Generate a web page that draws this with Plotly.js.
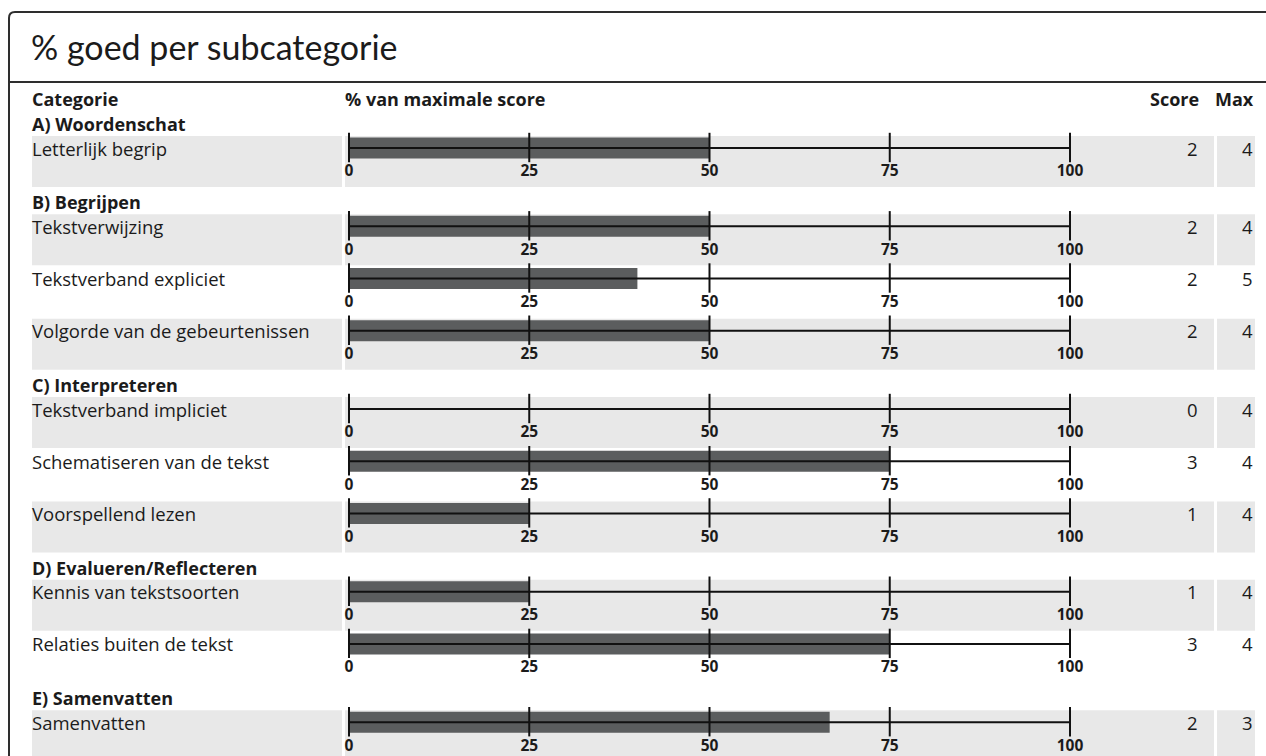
<!DOCTYPE html>
<html>
<head>
<meta charset="utf-8">
<script src="https://cdn.plot.ly/plotly-3.0.1.min.js"></script>
<style>
  html, body { margin: 0; padding: 0; background: #ffffff; }
  #chart { width: 1266px; height: 756px; }
</style>
</head>
<body>
<div id="chart"></div>
<script>
// ---------------- data ----------------
const groups = ["A) Woordenschat", "B) Begrijpen", "C) Interpreteren", "D) Evalueren/Reflecteren", "E) Samenvatten"];
const subcategories = [
  "Letterlijk begrip",
  "Tekstverwijzing",
  "Tekstverband expliciet",
  "Volgorde van de gebeurtenissen",
  "Tekstverband impliciet",
  "Schematiseren van de tekst",
  "Voorspellend lezen",
  "Kennis van tekstsoorten",
  "Relaties buiten de tekst",
  "Samenvatten"
];
const groupIndex = [0, 1, 1, 1, 2, 2, 2, 3, 3, 4];
const scores = [2, 2, 2, 2, 0, 3, 1, 1, 3, 2];
const maxScores = [4, 4, 5, 4, 4, 4, 4, 4, 4, 3];
const tickVals = [0, 25, 50, 75, 100];
const tickLabels = ["0", "25", "50", "75", "100"];
const headerLabels = ["Categorie", "% van maximale score", "Score", "Max"];
const chartTitle = "% goed per subcategorie";

// ---------------- layout helpers ----------------
const W = 1266, H = 756;
const X0 = 349, PXU = 7.21;           // pixel of 0 %, pixels per % unit
const px = p => (p - X0) / PXU;       // page pixel -> x data unit
const FIRST_LINE = 148, SLOT = 26.1;  // row geometry (y in pixel units)
const FONT = "'Open Sans', Lato, sans-serif";
const TFONT = "Lato, 'Open Sans', sans-serif";
const TXT = "#1b1b1b";

// row positions
const rowLine = [];
const groupCenter = [];
const rowShade = [];
let slot = 0, k = 0;
for (let i = 0; i < subcategories.length; i++) {
  if (i > 0 && groupIndex[i] !== groupIndex[i - 1]) { slot += 1; k = 0; }
  const line = FIRST_LINE + slot * SLOT;
  rowLine.push(line);
  if (k === 0) groupCenter[groupIndex[i]] = line - 24;
  rowShade.push(k % 2 === 0);
  slot += 2; k += 1;
}
const percent = scores.map((s, i) => s / maxScores[i] * 100);

// ---------------- traces ----------------
const bars = {
  type: "bar", orientation: "h",
  y: rowLine, x: percent, base: 0, width: 21,
  marker: { color: "#5b5d5e", line: { width: 0 } },
  hoverinfo: "skip", showlegend: false
};

const axX = [], axY = [];
const tkX = [], tkY = [], tlX = [], tlY = [], tlT = [];
rowLine.forEach(l => {
  axX.push(tickVals[0], tickVals[tickVals.length - 1], null);
  axY.push(l, l, null);
  tickVals.forEach((v, j) => {
    tkX.push(v); tkY.push(l - 0.5);
    tlX.push(v); tlY.push(l + 24.5); tlT.push("<b>" + tickLabels[j] + "</b>");
  });
});
const axisLines = {
  type: "scatter", mode: "lines", x: axX, y: axY,
  line: { color: "#111111", width: 2 }, hoverinfo: "skip", showlegend: false
};
const tickMarks = {
  type: "scatter", mode: "markers", x: tkX, y: tkY,
  marker: { symbol: "line-ns", size: 21, line: { color: "#111111", width: 2 } },
  hoverinfo: "skip", showlegend: false
};
const tickText = {
  type: "scatter", mode: "text", x: tlX, y: tlY, text: tlT,
  textposition: "middle center",
  textfont: { family: FONT, size: 15.5, color: TXT },
  hoverinfo: "skip", showlegend: false
};

// ---------------- annotations (table text) ----------------
const ann = [];
function addText(txt, x, y, anchor, size, bold) {
  ann.push({
    text: bold ? "<b>" + txt + "</b>" : txt,
    x: x, y: y, xref: "x", yref: "y",
    xanchor: anchor, yanchor: "middle", showarrow: false,
    font: { family: FONT, size: size, color: TXT }
  });
}
addText(headerLabels[0], px(30), 99, "left", 18, true);
addText(headerLabels[1], px(343), 99, "left", 18, true);
addText(headerLabels[2], px(1201), 99, "right", 18, true);
addText(headerLabels[3], px(1256), 99, "right", 18, true);
groups.forEach((g, gi) => addText(g, px(30), groupCenter[gi], "left", 18, true));
subcategories.forEach((s, i) => {
  addText(s, px(30), rowLine[i], "left", 18.5, false);
  addText(String(scores[i]), px(1200), rowLine[i], "right", 18.5, false);
  addText(String(maxScores[i]), px(1255), rowLine[i], "right", 18.5, false);
});

// ---------------- shapes (cell backgrounds + frame) ----------------
const shapes = [];
const cells = [[32, 342], [345, 1214], [1217, 1255]];
rowLine.forEach((l, i) => {
  if (!rowShade[i]) return;
  cells.forEach(c => shapes.push({
    type: "rect", xref: "x", yref: "y", layer: "below",
    x0: px(c[0]), x1: px(c[1]), y0: l - 12, y1: l + 39,
    fillcolor: "#e8e8e8", line: { width: 0 }
  }));
});
// frame
shapes.push({
  type: "path", xref: "paper", yref: "paper", layer: "above",
  path: "M " + (9 / W) + " 0 L " + (9 / W) + " " + (1 - 18 / H) +
        " Q " + (9 / W) + " " + (1 - 12 / H) + " " + (15 / W) + " " + (1 - 12 / H) +
        " L 1.01 " + (1 - 12 / H),
  line: { color: "#2e2e2e", width: 2 }
});
shapes.push({
  type: "line", xref: "paper", yref: "paper", layer: "above",
  x0: 9 / W, x1: 1.01, y0: 1 - 82 / H, y1: 1 - 82 / H,
  line: { color: "#2e2e2e", width: 2 }
});

const layout = {
  width: W, height: H,
  margin: { l: 0, r: 0, t: 0, b: 0 },
  paper_bgcolor: "#ffffff", plot_bgcolor: "#ffffff",
  title: {
    text: chartTitle, x: 31 / W, xanchor: "left", xref: "paper",
    y: 1 - 48 / H, yref: "container", yanchor: "middle",
    font: { family: TFONT, size: 34, color: TXT }
  },
  xaxis: { range: [px(0), px(W)], visible: false, fixedrange: true },
  yaxis: { range: [H, 0], visible: false, fixedrange: true },
  barmode: "overlay",
  showlegend: false,
  shapes: shapes,
  annotations: ann
};

Plotly.newPlot("chart", [bars, axisLines, tickMarks, tickText], layout,
  { staticPlot: true, displayModeBar: false });
</script>
</body>
</html>
